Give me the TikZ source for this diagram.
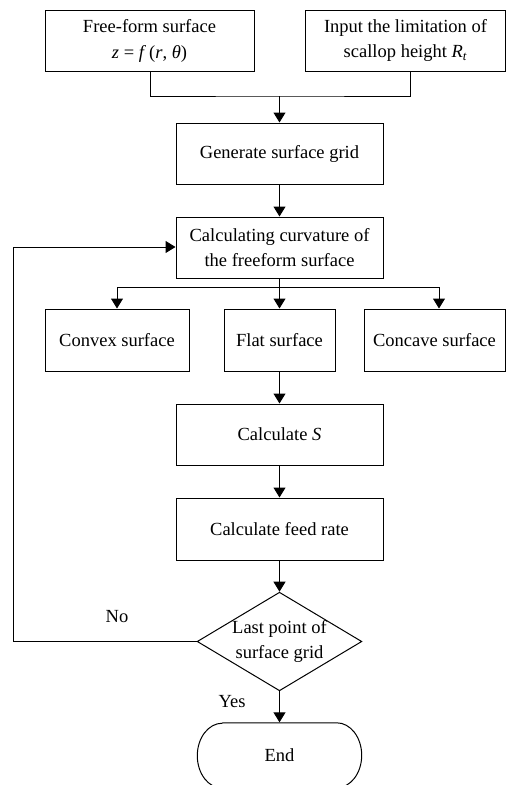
\documentclass[tikz,border=0pt]{standalone}
\usepackage{fontspec}
\setmainfont{Liberation Serif}
\usetikzlibrary{arrows.meta,shapes.geometric}
\begin{document}
\begin{tikzpicture}[x=1pt,y=-1pt,
  every node/.style={font=\fontsize{18.5}{25}\selectfont, align=center, inner sep=0pt},
  box/.style={draw, line width=1pt, minimum height=61pt},
  conn/.style={line width=1pt},
  arr/.style={conn, -{Triangle[length=10pt,width=12pt]}},
  lbl/.style={}]
\useasboundingbox (0,0) rectangle (506,785);
\node[box, minimum width=209pt] (b1) at (149.5,40.5) {Free-form surface\\[1pt]\textit{z} = \textit{f}\,(\textit{r}, \textit{θ})};
\node[box, minimum width=200pt] (b2) at (405.5,40.5) {Input the limitation of\\scallop height \textit{R}\textsubscript{\textit{t}}};
\node[box, minimum width=207pt] (b3) at (279.5,153.5) {Generate surface grid};
\node[box, minimum width=207pt] (b4) at (279.5,247.5) {Calculating curvature of\\the freeform surface};
\node[box, minimum width=144pt, minimum height=62pt] (cvx) at (117,340) {Convex surface};
\node[box, minimum width=111pt, minimum height=62pt] (flat) at (279.5,340) {Flat surface};
\node[box, minimum width=141pt, minimum height=62pt] (ccv) at (434.5,340) {Concave surface};
\node[box, minimum width=207pt] (cs) at (279.5,434.5) {Calculate \textit{S}};
\node[box, minimum width=207pt, minimum height=62pt] (feed) at (279.5,529) {Calculate feed rate};
\node[draw, line width=1pt, diamond, aspect=1.67, minimum width=162pt, minimum height=97pt] (dia) at (279.5,641.5) {Last point of\\surface grid};
\node[minimum width=164pt, minimum height=65pt] (end) at (279.5,755.5) {End};
\draw[conn] ([xshift=25pt]end.north west) -- ([xshift=-25pt]end.north east)
  arc[start angle=90, end angle=-90, x radius=25pt, y radius=32.5pt]
  -- ([xshift=25pt]end.south west)
  arc[start angle=270, end angle=90, x radius=25pt, y radius=32.5pt];
\coordinate (j1) at (279.5,96);
\coordinate (j2) at (279.5,287);
\coordinate (lb) at (13,641.5);
\coordinate (lt) at (13,247);
\draw[conn] (b1.south -| 150,0) |- (j1) -| (b2.south -| 410,0);
\draw[arr] (j1) -- (b3);
\draw[arr] (b3) -- (b4);
\draw[conn] (b4) -- (j2);
\draw[arr] (j2) -- (flat);
\draw[arr] (j2) -| (cvx.north -| 117,0);
\draw[arr] (j2) -| (ccv.north -| 439,0);
\draw[arr] (flat) -- (cs);
\draw[arr] (cs) -- (feed);
\draw[arr] (feed) -- (dia);
\draw[arr] (dia) -- ([yshift=0.5pt]end.north);
\draw[arr] (dia.west) -- (lb) -- (lt) -- (lt -| b4.west);
\node[lbl] (no) at (117,617) {No};
\node[lbl] (yes) at (232,702) {Yes};
\end{tikzpicture}
\end{document}
